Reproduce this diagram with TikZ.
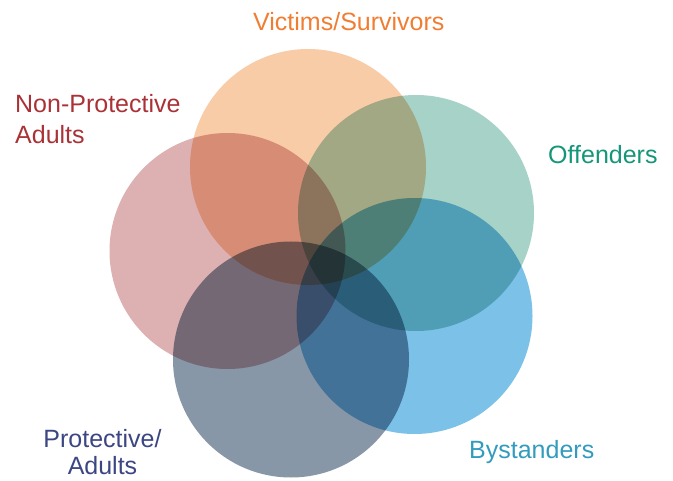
\documentclass[tikz,border=0pt]{standalone}
\usepackage{fontspec}
\setmainfont{Liberation Sans}
\usetikzlibrary{calc}

\definecolor{victimsFill}{RGB}{249,204,168}
\definecolor{offendersFill}{RGB}{166,210,199}
\definecolor{bystandersFill}{RGB}{124,193,232}
\definecolor{protectiveFill}{RGB}{136,151,168}
\definecolor{nonProtectiveFill}{RGB}{221,176,178}
\definecolor{victimsText}{RGB}{240,125,50}
\definecolor{offendersText}{RGB}{20,150,120}
\definecolor{bystandersText}{RGB}{50,155,190}
\definecolor{protectiveText}{RGB}{60,70,130}
\definecolor{nonProtectiveText}{RGB}{170,50,55}

\begin{document}
\begin{tikzpicture}[x=1pt,y=-1pt,
        tag/.style={font=\fontsize{25}{31}\selectfont, inner sep=0pt}]
        \pgfmathsetmacro{\circRadius}{118}
        \useasboundingbox (0,0) rectangle (673,481);
        \foreach \name/\cx/\cy/\col in {victims/308/167/victimsFill,
            offenders/416/213/offendersFill, bystanders/414.5/316/bystandersFill,
            protective/291/359.5/protectiveFill, nonProtective/227.5/251/nonProtectiveFill}{
            \fill[\col, blend mode=multiply] (\cx,\cy) circle(\circRadius pt);
            \coordinate (\name) at (\cx,\cy);
        }
        \node[tag, anchor=base west, text=victimsText] (victimsTag) at (253,30.7) {Victims/Survivors};
        \node[tag, anchor=base west, text=offendersText] (offendersTag) at (548,163.3) {Offenders};
        \node[tag, anchor=base west, text=bystandersText] (bystandersTag) at (469,459) {Bystanders};
        \node[tag, anchor=base west, align=left, text=nonProtectiveText] (nonProtectiveTag)
            at (15,143.3) {Non-Protective\\Adults};
        \node[tag, anchor=base, align=center, text=protectiveText] (protectiveTag)
            at (102.5,475) {Protective/\\[-3pt]Adults};
    \end{tikzpicture}
\end{document}
